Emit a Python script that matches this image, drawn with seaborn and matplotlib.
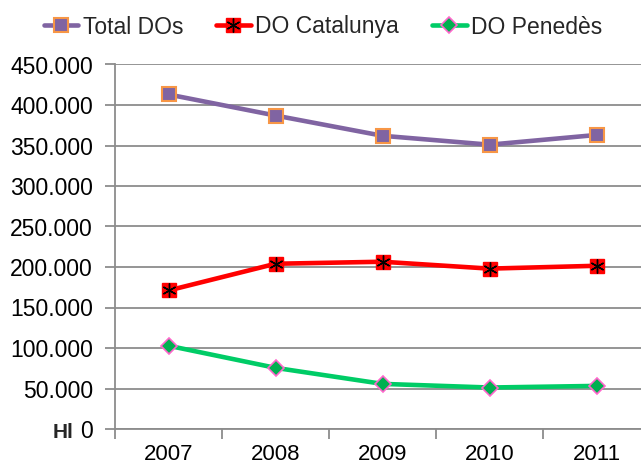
import matplotlib
matplotlib.use("Agg")
import matplotlib.pyplot as plt
import pandas as pd
import seaborn as sns
from matplotlib.ticker import FuncFormatter


YEARS = ["2007", "2008", "2009", "2010", "2011"]
TOTAL_DOS = [413000, 387000, 362000, 351000, 363000]
DO_CATALUNYA = [171000, 204000, 206500, 198000, 201500]
DO_PENEDES = [102800, 75500, 55700, 51200, 53200]
SERIES_NAMES = ["Total DOs", "DO Catalunya", "DO Penedès"]
Y_TICKS = [0, 50000, 100000, 150000, 200000, 250000, 300000, 350000, 400000, 450000]

FONT = ["Liberation Sans", "DejaVu Sans"]
GRID_GREY = "#8c8c8c"


def build_frame():
    rows = []
    for name, values in zip(SERIES_NAMES, [TOTAL_DOS, DO_CATALUNYA, DO_PENEDES]):
        for year, value in zip(YEARS, values):
            rows.append({"year": year, "hl": value, "series": name})
    return pd.DataFrame(rows)


def thousands(value, pos):
    return f"{int(value):,}".replace(",", ".")


def main():
    sns.set_theme(style="white")
    plt.rcParams["font.family"] = FONT

    df = build_frame()

    fig = plt.figure(figsize=(6.41, 4.69), dpi=100)
    ax = fig.add_axes([115 / 641, 40 / 469, 535 / 641, 364.5 / 469])

    styles = {
        "Total DOs": dict(color="#8064a2", marker="s", markersize=10,
                          markerfacecolor="#8064a2", markeredgecolor="#f79646",
                          markeredgewidth=1.5),
        "DO Catalunya": dict(color="#ff0000", marker="s", markersize=10,
                             markerfacecolor="#ff0000", markeredgecolor="#ff0000",
                             markeredgewidth=1),
        "DO Penedès": dict(color="#00cc66", marker="D", markersize=8.5,
                           markerfacecolor="#00b050", markeredgecolor="#ff66cc",
                           markeredgewidth=1.2),
    }

    handles = []
    for name in SERIES_NAMES:
        sub = df[df["series"] == name]
        sns.lineplot(data=sub, x="year", y="hl", ax=ax, linewidth=3.3,
                     label=name, zorder=3, **styles[name])
        line = ax.get_lines()[-1]
        if name == "DO Catalunya":
            # asterisk drawn over the red square
            star = ax.plot(sub["year"], sub["hl"], linestyle="", marker=(6, 2, 0),
                           markersize=10, markeredgecolor="black",
                           markeredgewidth=1.0, zorder=4)[0]
            handles.append((line, star))
        else:
            handles.append(line)

    ax.set_ylim(0, 450000)
    ax.set_xlim(-0.5, 4.5)
    ax.set_yticks(Y_TICKS)
    ax.yaxis.set_major_formatter(FuncFormatter(thousands))
    ax.set_xticks(range(len(YEARS)))
    ax.set_xticklabels(YEARS)
    ax.set_xticks([i - 0.5 for i in range(len(YEARS) + 1)], minor=True)

    ax.grid(axis="y", color=GRID_GREY, linewidth=1.3)
    ax.set_axisbelow(True)
    for side in ["top", "right"]:
        ax.spines[side].set_visible(False)
    for side in ["left", "bottom"]:
        ax.spines[side].set_color(GRID_GREY)
        ax.spines[side].set_linewidth(1.3)

    ax.tick_params(axis="y", which="major", left=True, length=7, width=1.3,
                   color=GRID_GREY, labelsize=16.5, labelcolor="black", pad=9)
    ax.tick_params(axis="x", which="major", bottom=False, labelsize=16,
                   labelcolor="black", pad=5)
    ax.tick_params(axis="x", which="minor", bottom=True, length=7, width=1.3,
                   color=GRID_GREY)
    ax.set_xlabel("")
    ax.set_ylabel("")

    fig.text(74 / 641, 1 - 433 / 469, "Hl", fontsize=15, fontweight="bold",
             ha="right", va="center")

    ax.legend(handles=handles, labels=SERIES_NAMES, ncol=3, frameon=False,
              loc="center", bbox_to_anchor=(323 / 641, 1 - 27 / 469),
              bbox_transform=fig.transFigure, fontsize=16.5, handlelength=1.5,
              handletextpad=0.2, columnspacing=1.45, borderaxespad=0)

    fig.savefig("out.png", dpi=100)
    plt.close(fig)


if __name__ == "__main__":
    main()
